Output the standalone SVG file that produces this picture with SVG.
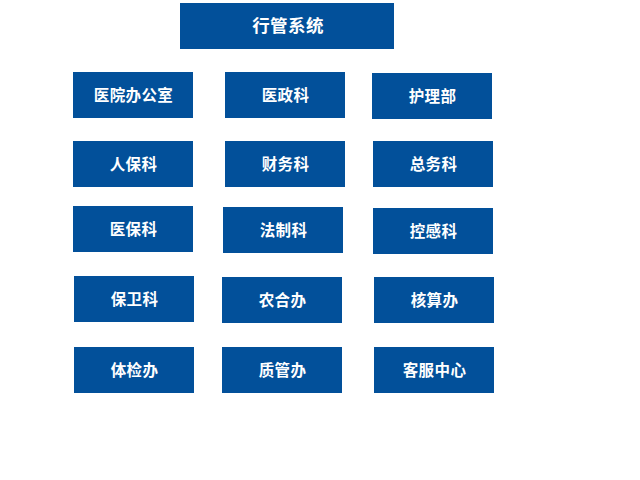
<svg xmlns="http://www.w3.org/2000/svg" width="640" height="480" viewBox="0 0 640 480">
<style>
.box{fill:#02509a;}
.t{fill:#ffffff;font-family:"Noto Sans CJK SC","Noto Sans CJK JP",sans-serif;font-size:15.5px;font-weight:bold;letter-spacing:0.4px;text-anchor:middle;}
.title{font-size:17.5px;}
</style>
<rect width="640" height="480" fill="#ffffff"/>
<g id="connectors"></g>
<g id="n0"><rect class="box" x="180" y="3" width="214" height="46"/><text class="t title" x="288" y="32">行管系统</text></g>
<g id="n1"><rect class="box" x="73" y="72" width="120" height="46"/><text class="t" x="133.5" y="101">医院办公室</text></g>
<g id="n2"><rect class="box" x="225" y="72" width="120" height="46"/><text class="t" x="285.5" y="101">医政科</text></g>
<g id="n3"><rect class="box" x="372" y="73" width="120" height="46"/><text class="t" x="432.5" y="102">护理部</text></g>
<g id="n4"><rect class="box" x="73" y="141" width="120" height="46"/><text class="t" x="133.5" y="170">人保科</text></g>
<g id="n5"><rect class="box" x="225" y="141" width="120" height="46"/><text class="t" x="285.5" y="170">财务科</text></g>
<g id="n6"><rect class="box" x="373" y="141" width="120" height="46"/><text class="t" x="433.5" y="170">总务科</text></g>
<g id="n7"><rect class="box" x="73" y="206" width="120" height="46"/><text class="t" x="133.5" y="235">医保科</text></g>
<g id="n8"><rect class="box" x="223" y="207" width="120" height="46"/><text class="t" x="283.5" y="236">法制科</text></g>
<g id="n9"><rect class="box" x="373" y="208" width="120" height="46"/><text class="t" x="433.5" y="237">控感科</text></g>
<g id="n10"><rect class="box" x="74" y="276" width="120" height="46"/><text class="t" x="134.5" y="305">保卫科</text></g>
<g id="n11"><rect class="box" x="222" y="277" width="120" height="46"/><text class="t" x="282.5" y="306">农合办</text></g>
<g id="n12"><rect class="box" x="374" y="277" width="120" height="46"/><text class="t" x="434.5" y="306">核算办</text></g>
<g id="n13"><rect class="box" x="74" y="347" width="120" height="46"/><text class="t" x="134.5" y="376">体检办</text></g>
<g id="n14"><rect class="box" x="222" y="347" width="120" height="46"/><text class="t" x="282.5" y="376">质管办</text></g>
<g id="n15"><rect class="box" x="374" y="347" width="120" height="46"/><text class="t" x="434.5" y="376">客服中心</text></g>
</svg>
